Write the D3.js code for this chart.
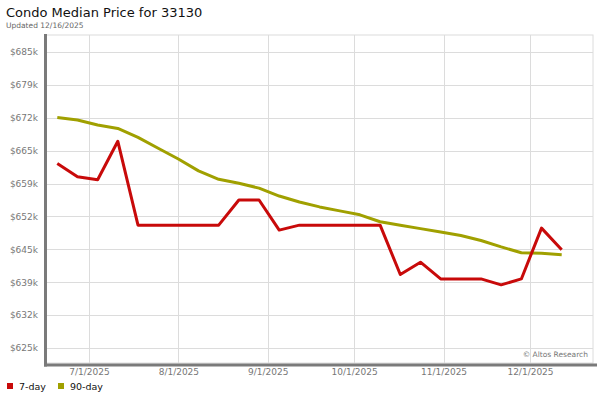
<!DOCTYPE html>
<html>
<head>
<meta charset="utf-8">
<script src="https://cdn.jsdelivr.net/npm/d3@7"></script>
<style>
  html, body { margin: 0; padding: 0; background: #fff; }
  svg { display: block; font-family: "DejaVu Sans", Verdana, sans-serif; }
</style>
</head>
<body>
<svg id="chart" width="600" height="400"></svg>
<script>
// ---- data ----
const title = "Condo Median Price for 33130";
const subtitle = "Updated 12/16/2025";
const firstWeek = "2025-06-20"; // weekly points start
const sevenDay = [662.7, 660.0, 659.4, 667.2, 650.2, 650.2, 650.2, 650.2, 650.2, 655.3,
                  655.3, 649.2, 650.2, 650.2, 650.2, 650.2, 650.2, 640.2, 642.7, 639.3,
                  639.3, 639.3, 638.1, 639.3, 649.6, 645.2];
const ninetyDay = [672.0, 671.5, 670.5, 669.8, 668.0, 665.8, 663.6, 661.2, 659.5, 658.7,
                   657.7, 656.1, 654.9, 653.9, 653.1, 652.3, 650.9, 650.2, 649.5, 648.8,
                   648.1, 647.1, 645.8, 644.6, 644.5, 644.2];
const yTickValues = [625.3, 631.97, 638.63, 645.3, 651.97, 658.63, 665.3, 671.97, 678.63, 685.3];
const yTickLabels = ["$625k", "$632k", "$639k", "$645k", "$652k", "$659k", "$665k", "$672k", "$679k", "$685k"];
const xTickDates = ["2025-07-01", "2025-08-01", "2025-09-01", "2025-10-01", "2025-11-01", "2025-12-01"];
const xTickLabels = ["7/1/2025", "8/1/2025", "9/1/2025", "10/1/2025", "11/1/2025", "12/1/2025"];
const seriesNames = ["7-day", "90-day"];
const seriesColors = ["#c80a0a", "#a0a000"];

// ---- layout ----
const plot = { left: 46, right: 593, top: 35, bottom: 363 };
const svg = d3.select("#chart");
const parse = d3.utcParse("%Y-%m-%d");
const day = 864e5;
const start = parse(firstWeek);
const dates = sevenDay.map((_, i) => new Date(start.getTime() + i * 7 * day));

// x: anchor on the month gridlines, extended to plot edges
const x = d3.scaleUtc()
  .domain([parse("2025-07-01"), parse("2025-12-01")])
  .range([89, 530]);
const y = d3.scaleLinear()
  .domain([yTickValues[0], yTickValues[yTickValues.length - 1]])
  .range([348, 52]);

// title
svg.append("text").attr("x", 6).attr("y", 17)
  .attr("font-size", 13).attr("fill", "#111").text(title);
svg.append("text").attr("x", 6).attr("y", 28)
  .attr("font-size", 7.5).attr("fill", "#666").text(subtitle);

// plot frame
svg.append("rect")
  .attr("x", plot.left).attr("y", plot.top)
  .attr("width", plot.right - plot.left).attr("height", plot.bottom - plot.top)
  .attr("fill", "#fff").attr("stroke", "#dcdcdc").attr("stroke-width", 1);

// horizontal gridlines
svg.append("g").selectAll("line").data(yTickValues).join("line")
  .attr("x1", plot.left).attr("x2", plot.right)
  .attr("y1", d => Math.round(y(d)) + 0.5).attr("y2", d => Math.round(y(d)) + 0.5)
  .attr("stroke", "#dcdcdc").attr("stroke-width", 1);

// vertical gridlines
svg.append("g").selectAll("line").data(xTickDates).join("line")
  .attr("x1", d => Math.round(x(parse(d))) + 0.5).attr("x2", d => Math.round(x(parse(d))) + 0.5)
  .attr("y1", plot.top).attr("y2", plot.bottom)
  .attr("stroke", "#dcdcdc").attr("stroke-width", 1);

// y axis labels
const yAxis = d3.axisLeft(y).tickValues(yTickValues)
  .tickFormat((d, i) => yTickLabels[i]).tickSize(0).tickPadding(0);
const gy = svg.append("g").attr("transform", "translate(38,0)").call(yAxis);
gy.select(".domain").remove();
gy.selectAll("text").attr("font-size", 9).attr("fill", "#777")
  .attr("font-family", "DejaVu Sans, Verdana, sans-serif");

// x axis labels
const xAxis = d3.axisBottom(x).tickValues(xTickDates.map(parse))
  .tickFormat((d, i) => xTickLabels[i]).tickSize(0).tickPadding(0);
const gx = svg.append("g").attr("transform", "translate(0,369)").call(xAxis);
gx.select(".domain").remove();
gx.selectAll("text").attr("font-size", 9).attr("fill", "#777")
  .attr("font-family", "DejaVu Sans, Verdana, sans-serif");

// thick axis lines
svg.append("line").attr("x1", 45.5).attr("x2", 45.5).attr("y1", 34).attr("y2", 366.5)
  .attr("stroke", "#7a7a7a").attr("stroke-width", 3);
svg.append("line").attr("x1", 44).attr("x2", 597).attr("y1", 365).attr("y2", 365)
  .attr("stroke", "#7a7a7a").attr("stroke-width", 3);

// watermark
svg.append("text").attr("x", 588).attr("y", 357).attr("text-anchor", "end")
  .attr("font-size", 7.5).attr("fill", "#777").text("\u00A9 Altos Research");

// lines
const line = d3.line().x((d, i) => x(dates[i])).y(d => y(d));
[ninetyDay, sevenDay].forEach((s, k) => {
  svg.append("path").datum(s)
    .attr("d", line)
    .attr("fill", "none")
    .attr("stroke", seriesColors[1 - k])
    .attr("stroke-width", 3)
    .attr("stroke-linejoin", "round")
    .attr("stroke-linecap", "butt");
});

// legend
const legendX = [7, 58];
const lg = svg.append("g");
seriesNames.forEach((name, i) => {
  lg.append("rect").attr("x", legendX[i]).attr("y", 383).attr("width", 6).attr("height", 6)
    .attr("fill", seriesColors[i]);
  lg.append("text").attr("x", legendX[i] + 12).attr("y", 390)
    .attr("font-size", 9.5).attr("fill", "#111").text(name);
});
</script>
</body>
</html>
